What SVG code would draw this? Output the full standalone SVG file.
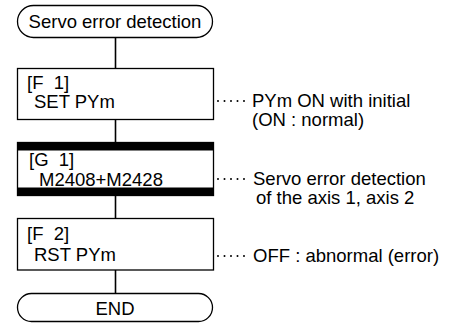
<svg xmlns="http://www.w3.org/2000/svg" width="451" height="332" viewBox="0 0 451 332">
<style>
text{font-family:"Liberation Sans",Arial,sans-serif;font-size:18.5px;fill:#000;white-space:pre}
.c{text-anchor:middle}
.box{fill:#fff;stroke:#000;stroke-width:1.3}
.ln{stroke:#000;stroke-width:1.6;fill:none}
.dots{stroke:#000;stroke-width:2;stroke-linecap:round;stroke-dasharray:0 6.5;fill:none}
</style>
<rect width="451" height="332" fill="#fff"/>
<g id="connectors">
<line class="ln" x1="115.5" y1="37" x2="115.5" y2="68"/>
<line class="ln" x1="115.5" y1="119" x2="115.5" y2="142"/>
<line class="ln" x1="115.5" y1="196" x2="115.5" y2="218"/>
<line class="ln" x1="115.5" y1="270" x2="115.5" y2="293"/>
<path class="dots" d="M218 101H247M218 179H247M218 256H247"/>
</g>
<g id="start">
<rect class="box" x="17.5" y="5.5" width="195" height="32" rx="16"/>
<text class="c" x="115" y="28">Servo error detection</text>
</g>
<g id="f1">
<rect class="box" x="17.5" y="68.5" width="196" height="51"/>
<text x="27" y="89">[F  1]</text>
<text x="34" y="108">SET PYm</text>
</g>
<g id="g1">
<rect class="box" x="17.5" y="142.5" width="196" height="53"/>
<rect x="17" y="142" width="197" height="8.5" fill="#000"/>
<rect x="17" y="187.5" width="197" height="8.5" fill="#000"/>
<text x="29" y="166">[G  1]</text>
<text x="39" y="185.5">M2408+M2428</text>
</g>
<g id="f2">
<rect class="box" x="17.5" y="218.5" width="196" height="51.5"/>
<text x="27" y="240">[F  2]</text>
<text x="34" y="261">RST PYm</text>
</g>
<g id="end">
<rect class="box" x="17.5" y="293.5" width="195" height="28" rx="14"/>
<text class="c" x="115" y="315">END</text>
</g>
<g id="notes">
<text x="252" y="107">PYm ON with initial</text>
<text x="252" y="126">(ON : normal)</text>
<text x="253" y="185">Servo error detection</text>
<text x="256" y="204">of the axis 1, axis 2</text>
<text x="253" y="262">OFF : abnormal (error)</text>
</g>
</svg>
